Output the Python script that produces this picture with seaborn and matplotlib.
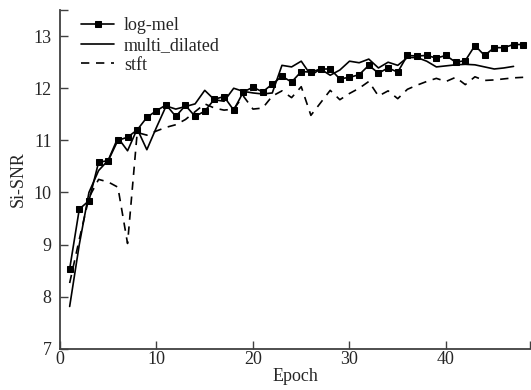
import matplotlib
matplotlib.use('Agg')
import matplotlib.pyplot as plt
import pandas as pd
import seaborn as sns

# Values
log_mel = [8.53, 9.68, 9.84, 10.58, 10.61, 11.0, 11.06, 11.2, 11.44, 11.57,
           11.68, 11.46, 11.67, 11.46, 11.56, 11.79, 11.84, 11.58, 11.93, 12.02,
           11.93, 12.08, 12.23, 12.12, 12.32, 12.31, 12.37, 12.37, 12.18, 12.21,
           12.26, 12.44, 12.29, 12.39, 12.31, 12.63, 12.62, 12.63, 12.58, 12.63,
           12.5, 12.53, 12.82, 12.63, 12.78, 12.78, 12.84, 12.84]
multi_dilated = [7.81, 9.0, 10.0, 10.42, 10.62, 11.05, 10.8, 11.22, 10.82, 11.25,
                 11.66, 11.6, 11.65, 11.7, 11.96, 11.78, 11.75, 12.0, 11.94, 11.91,
                 11.89, 11.91, 12.44, 12.41, 12.52, 12.25, 12.37, 12.25, 12.35, 12.52,
                 12.49, 12.56, 12.39, 12.5, 12.44, 12.59, 12.59, 12.52, 12.41, 12.43,
                 12.45, 12.46, 12.45, 12.41, 12.37, 12.39, 12.42]
stft = [8.26, 9.1, 9.9, 10.25, 10.2, 10.1, 9.02, 11.15, 11.1, 11.18,
        11.25, 11.3, 11.4, 11.55, 11.7, 11.62, 11.58, 11.6, 11.85, 11.6,
        11.62, 11.85, 11.95, 11.82, 12.03, 11.48, 11.72, 11.96, 11.78, 11.9,
        12.0, 12.13, 11.85, 11.95, 11.8, 11.98, 12.06, 12.13, 12.19, 12.13,
        12.21, 12.07, 12.22, 12.15, 12.16, 12.18, 12.2, 12.21]
x_ticks = [0, 10, 20, 30, 40]
y_ticks = [7, 8, 9, 10, 11, 12, 13]

sns.set_style('ticks')
plt.rcParams['font.family'] = ['Liberation Serif', 'DejaVu Serif']
plt.rcParams['font.size'] = 12.5

fig = plt.figure(figsize=(5.31, 3.9), dpi=100)
ax = fig.add_axes([0.113, 0.106, 0.885, 0.868])

df_lm = pd.DataFrame({'Epoch': range(1, len(log_mel) + 1), 'val': log_mel})
df_md = pd.DataFrame({'Epoch': range(1, len(multi_dilated) + 1), 'val': multi_dilated})
df_st = pd.DataFrame({'Epoch': range(1, len(stft) + 1), 'val': stft})

sns.lineplot(data=df_lm, x='Epoch', y='val', ax=ax, color='black', lw=1.2,
             marker='s', markersize=4.3, markeredgecolor='black', label='log-mel')
sns.lineplot(data=df_md, x='Epoch', y='val', ax=ax, color='black', lw=1.2,
             label='multi_dilated')
sns.lineplot(data=df_st, x='Epoch', y='val', ax=ax, color='black', lw=1.2,
             dashes=(5, 4), label='stft')

ax.set_xlim(0, 48.7)
ax.set_ylim(7, 13.5)
ax.set_xticks(x_ticks)
ax.set_yticks(y_ticks)
ax.set_xticks([48.7], minor=True)
ax.set_yticks([13.5], minor=True)
ax.tick_params(which='both', direction='in', length=6, width=1, color='#404040',
               labelsize=13)
ax.tick_params(axis='y', pad=6)
ax.tick_params(axis='x', pad=2)
ax.set_xlabel('Epoch', fontsize=13, labelpad=0)
ax.set_ylabel('Si-SNR', fontsize=13, labelpad=5)

sns.despine(ax=ax)
for s in ['left', 'bottom']:
    ax.spines[s].set_color('#404040')
    ax.spines[s].set_linewidth(1.3)

ax.legend(loc='upper left', bbox_to_anchor=(0.03, 1.0), frameon=False,
          numpoints=1, handlelength=1.8, handletextpad=0.55, labelspacing=0.15,
          fontsize=13, borderaxespad=0)

fig.savefig('out.png', dpi=100)
